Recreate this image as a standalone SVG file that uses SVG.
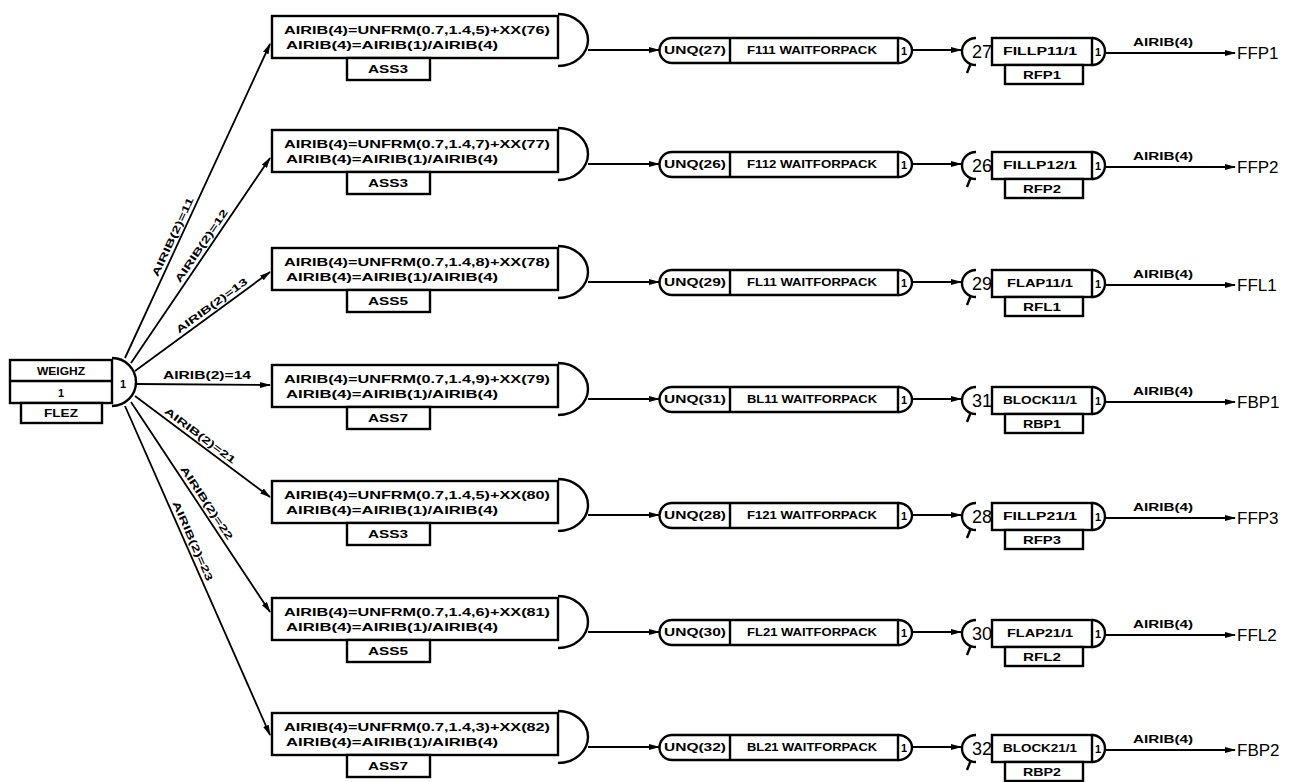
<svg xmlns="http://www.w3.org/2000/svg" width="1292" height="782" viewBox="0 0 1292 782">
<style>
.b{fill:#fff;stroke:#000;stroke-width:2.4}
.n{fill:none;stroke:#000;stroke-width:2.4}
.c{fill:none;stroke:#000;stroke-width:1.8}
.t{font-family:"Liberation Sans",Arial,sans-serif;font-weight:bold;font-size:11px;fill:#000}
.m{font-family:"Liberation Sans",Arial,sans-serif;font-weight:bold;font-size:11px;fill:#000;text-anchor:middle}
.e{font-family:"Liberation Sans",Arial,sans-serif;font-weight:bold;font-size:10px;fill:#000;text-anchor:middle}
.o{font-family:"Liberation Sans",Arial,sans-serif;font-size:17px;fill:#000}
.k{font-family:"Liberation Sans",Arial,sans-serif;font-size:18px;fill:#000;text-anchor:middle}
</style>
<defs>
<marker id="a" markerWidth="11" markerHeight="8" refX="10" refY="4" orient="auto" markerUnits="userSpaceOnUse">
<path d="M0,1 L11,4 L0,7 Z" fill="#000"/>
</marker>
</defs>
<rect width="1292" height="782" fill="#fff"/>

<g id="start">
<rect class="b" x="10" y="360" width="102" height="43"/>
<line class="n" x1="10" y1="381" x2="112" y2="381"/>
<rect class="b" x="21" y="403" width="81" height="20"/>
<path class="n" d="M112,358 A24,24 0 0 1 112,406"/>
<text class="m" x="61" y="375" textLength="48" lengthAdjust="spacingAndGlyphs">WEIGHZ</text>
<text class="m" x="61" y="397">1</text>
<text class="m" x="61" y="417" textLength="34" lengthAdjust="spacingAndGlyphs">FLEZ</text>
<text class="m" x="123" y="388">1</text>
</g>

<g id="connectors">
<line class="c" x1="125" y1="358" x2="270" y2="44" marker-end="url(#a)"/>
<line class="c" x1="131" y1="363" x2="270" y2="158" marker-end="url(#a)"/>
<line class="c" x1="135" y1="371" x2="270" y2="272" marker-end="url(#a)"/>
<line class="c" x1="137" y1="384" x2="270" y2="385" marker-end="url(#a)"/>
<line class="c" x1="135" y1="396" x2="270" y2="497" marker-end="url(#a)"/>
<line class="c" x1="131" y1="402" x2="270" y2="612" marker-end="url(#a)"/>
<line class="c" x1="125" y1="406" x2="270" y2="735" marker-end="url(#a)"/>
<text class="e" transform="translate(179.5,240) rotate(-65.2)" y="-4" textLength="86" lengthAdjust="spacingAndGlyphs">AIRIB(2)=11</text>
<text class="e" transform="translate(207.5,250) rotate(-55.9)" y="-4" textLength="86" lengthAdjust="spacingAndGlyphs">AIRIB(2)=12</text>
<text class="e" transform="translate(216,311.6) rotate(-36.3)" y="-4" textLength="86" lengthAdjust="spacingAndGlyphs">AIRIB(2)=13</text>
<text class="e" x="207" y="379" textLength="88" lengthAdjust="spacingAndGlyphs">AIRIB(2)=14</text>
<text class="e" transform="translate(195.8,441.5) rotate(36.8)" y="-4" textLength="86" lengthAdjust="spacingAndGlyphs">AIRIB(2)=21</text>
<text class="e" transform="translate(200.5,507) rotate(56.5)" y="-4" textLength="86" lengthAdjust="spacingAndGlyphs">AIRIB(2)=22</text>
<text class="e" transform="translate(186,544) rotate(66.2)" y="-4" textLength="86" lengthAdjust="spacingAndGlyphs">AIRIB(2)=23</text>

<line class="c" x1="588" y1="50" x2="659" y2="50" marker-end="url(#a)"/>
<line class="c" x1="588" y1="164" x2="659" y2="164" marker-end="url(#a)"/>
<line class="c" x1="588" y1="282" x2="659" y2="282" marker-end="url(#a)"/>
<line class="c" x1="588" y1="399" x2="659" y2="399" marker-end="url(#a)"/>
<line class="c" x1="588" y1="515" x2="659" y2="515" marker-end="url(#a)"/>
<line class="c" x1="588" y1="632" x2="659" y2="632" marker-end="url(#a)"/>
<line class="c" x1="588" y1="747" x2="659" y2="747" marker-end="url(#a)"/>

<line class="c" x1="912" y1="50" x2="961" y2="50" marker-end="url(#a)"/>
<line class="c" x1="912" y1="164" x2="961" y2="164" marker-end="url(#a)"/>
<line class="c" x1="912" y1="282" x2="961" y2="282" marker-end="url(#a)"/>
<line class="c" x1="912" y1="399" x2="961" y2="399" marker-end="url(#a)"/>
<line class="c" x1="912" y1="515" x2="961" y2="515" marker-end="url(#a)"/>
<line class="c" x1="912" y1="632" x2="961" y2="632" marker-end="url(#a)"/>
<line class="c" x1="912" y1="747" x2="961" y2="747" marker-end="url(#a)"/>

<line class="c" x1="1105" y1="53" x2="1235" y2="53" marker-end="url(#a)"/>
<line class="c" x1="1105" y1="167" x2="1235" y2="167" marker-end="url(#a)"/>
<line class="c" x1="1105" y1="285" x2="1235" y2="285" marker-end="url(#a)"/>
<line class="c" x1="1105" y1="402" x2="1235" y2="402" marker-end="url(#a)"/>
<line class="c" x1="1105" y1="518" x2="1235" y2="518" marker-end="url(#a)"/>
<line class="c" x1="1105" y1="635" x2="1235" y2="635" marker-end="url(#a)"/>
<line class="c" x1="1105" y1="750" x2="1235" y2="750" marker-end="url(#a)"/>
<text class="e" x="1163" y="46" textLength="60" lengthAdjust="spacingAndGlyphs">AIRIB(4)</text>
<text class="e" x="1163" y="160" textLength="60" lengthAdjust="spacingAndGlyphs">AIRIB(4)</text>
<text class="e" x="1163" y="278" textLength="60" lengthAdjust="spacingAndGlyphs">AIRIB(4)</text>
<text class="e" x="1163" y="395" textLength="60" lengthAdjust="spacingAndGlyphs">AIRIB(4)</text>
<text class="e" x="1163" y="511" textLength="60" lengthAdjust="spacingAndGlyphs">AIRIB(4)</text>
<text class="e" x="1163" y="628" textLength="60" lengthAdjust="spacingAndGlyphs">AIRIB(4)</text>
<text class="e" x="1163" y="743" textLength="60" lengthAdjust="spacingAndGlyphs">AIRIB(4)</text>
</g>

<g id="assign1">
<rect class="b" x="272" y="16" width="286" height="42"/>
<path class="n" d="M558,14 A30,26 0 0 1 558,66"/>
<text class="t" x="284" y="34" textLength="266" lengthAdjust="spacingAndGlyphs">AIRIB(4)=UNFRM(0.7,1.4,5)+XX(76)</text>
<text class="t" x="286" y="49" textLength="212" lengthAdjust="spacingAndGlyphs">AIRIB(4)=AIRIB(1)/AIRIB(4)</text>
<rect class="b" x="347" y="58" width="83" height="22"/>
<text class="m" x="388" y="73" textLength="40" lengthAdjust="spacingAndGlyphs">ASS3</text>
</g>
<g id="assign2">
<rect class="b" x="272" y="130" width="286" height="42"/>
<path class="n" d="M558,128 A30,26 0 0 1 558,180"/>
<text class="t" x="284" y="148" textLength="266" lengthAdjust="spacingAndGlyphs">AIRIB(4)=UNFRM(0.7,1.4,7)+XX(77)</text>
<text class="t" x="286" y="163" textLength="212" lengthAdjust="spacingAndGlyphs">AIRIB(4)=AIRIB(1)/AIRIB(4)</text>
<rect class="b" x="347" y="172" width="83" height="22"/>
<text class="m" x="388" y="187" textLength="40" lengthAdjust="spacingAndGlyphs">ASS3</text>
</g>
<g id="assign3">
<rect class="b" x="272" y="248" width="286" height="42"/>
<path class="n" d="M558,246 A30,26 0 0 1 558,298"/>
<text class="t" x="284" y="266" textLength="266" lengthAdjust="spacingAndGlyphs">AIRIB(4)=UNFRM(0.7,1.4,8)+XX(78)</text>
<text class="t" x="286" y="281" textLength="212" lengthAdjust="spacingAndGlyphs">AIRIB(4)=AIRIB(1)/AIRIB(4)</text>
<rect class="b" x="347" y="290" width="83" height="22"/>
<text class="m" x="388" y="305" textLength="40" lengthAdjust="spacingAndGlyphs">ASS5</text>
</g>
<g id="assign4">
<rect class="b" x="272" y="365" width="286" height="42"/>
<path class="n" d="M558,363 A30,26 0 0 1 558,415"/>
<text class="t" x="284" y="383" textLength="266" lengthAdjust="spacingAndGlyphs">AIRIB(4)=UNFRM(0.7,1.4,9)+XX(79)</text>
<text class="t" x="286" y="398" textLength="212" lengthAdjust="spacingAndGlyphs">AIRIB(4)=AIRIB(1)/AIRIB(4)</text>
<rect class="b" x="347" y="407" width="83" height="22"/>
<text class="m" x="388" y="422" textLength="40" lengthAdjust="spacingAndGlyphs">ASS7</text>
</g>
<g id="assign5">
<rect class="b" x="272" y="481" width="286" height="42"/>
<path class="n" d="M558,479 A30,26 0 0 1 558,531"/>
<text class="t" x="284" y="499" textLength="266" lengthAdjust="spacingAndGlyphs">AIRIB(4)=UNFRM(0.7,1.4,5)+XX(80)</text>
<text class="t" x="286" y="514" textLength="212" lengthAdjust="spacingAndGlyphs">AIRIB(4)=AIRIB(1)/AIRIB(4)</text>
<rect class="b" x="347" y="523" width="83" height="22"/>
<text class="m" x="388" y="538" textLength="40" lengthAdjust="spacingAndGlyphs">ASS3</text>
</g>
<g id="assign6">
<rect class="b" x="272" y="598" width="286" height="42"/>
<path class="n" d="M558,596 A30,26 0 0 1 558,648"/>
<text class="t" x="284" y="616" textLength="266" lengthAdjust="spacingAndGlyphs">AIRIB(4)=UNFRM(0.7,1.4,6)+XX(81)</text>
<text class="t" x="286" y="631" textLength="212" lengthAdjust="spacingAndGlyphs">AIRIB(4)=AIRIB(1)/AIRIB(4)</text>
<rect class="b" x="347" y="640" width="83" height="22"/>
<text class="m" x="388" y="655" textLength="40" lengthAdjust="spacingAndGlyphs">ASS5</text>
</g>
<g id="assign7">
<rect class="b" x="272" y="713" width="286" height="42"/>
<path class="n" d="M558,711 A30,26 0 0 1 558,763"/>
<text class="t" x="284" y="731" textLength="266" lengthAdjust="spacingAndGlyphs">AIRIB(4)=UNFRM(0.7,1.4,3)+XX(82)</text>
<text class="t" x="286" y="746" textLength="212" lengthAdjust="spacingAndGlyphs">AIRIB(4)=AIRIB(1)/AIRIB(4)</text>
<rect class="b" x="347" y="755" width="83" height="22"/>
<text class="m" x="388" y="770" textLength="40" lengthAdjust="spacingAndGlyphs">ASS7</text>
</g>

<g id="queue1"><path class="b" d="M672,38 H898 V63 H672 A12.5,12.5 0 0 1 672,38 Z"/><line class="n" x1="730" y1="38" x2="730" y2="63"/><path class="n" d="M898,38 A14,12.5 0 0 1 898,63"/><text class="m" x="695" y="54" textLength="62" lengthAdjust="spacingAndGlyphs">UNQ(27)</text><text class="m" x="812" y="54" textLength="130" lengthAdjust="spacingAndGlyphs">F111 WAITFORPACK</text><text class="m" x="904" y="55">1</text></g>
<g id="queue2"><path class="b" d="M672,152 H898 V177 H672 A12.5,12.5 0 0 1 672,152 Z"/><line class="n" x1="730" y1="152" x2="730" y2="177"/><path class="n" d="M898,152 A14,12.5 0 0 1 898,177"/><text class="m" x="695" y="168" textLength="62" lengthAdjust="spacingAndGlyphs">UNQ(26)</text><text class="m" x="812" y="168" textLength="130" lengthAdjust="spacingAndGlyphs">F112 WAITFORPACK</text><text class="m" x="904" y="169">1</text></g>
<g id="queue3"><path class="b" d="M672,270 H898 V295 H672 A12.5,12.5 0 0 1 672,270 Z"/><line class="n" x1="730" y1="270" x2="730" y2="295"/><path class="n" d="M898,270 A14,12.5 0 0 1 898,295"/><text class="m" x="695" y="286" textLength="62" lengthAdjust="spacingAndGlyphs">UNQ(29)</text><text class="m" x="812" y="286" textLength="130" lengthAdjust="spacingAndGlyphs">FL11 WAITFORPACK</text><text class="m" x="904" y="287">1</text></g>
<g id="queue4"><path class="b" d="M672,387 H898 V412 H672 A12.5,12.5 0 0 1 672,387 Z"/><line class="n" x1="730" y1="387" x2="730" y2="412"/><path class="n" d="M898,387 A14,12.5 0 0 1 898,412"/><text class="m" x="695" y="403" textLength="62" lengthAdjust="spacingAndGlyphs">UNQ(31)</text><text class="m" x="812" y="403" textLength="130" lengthAdjust="spacingAndGlyphs">BL11 WAITFORPACK</text><text class="m" x="904" y="404">1</text></g>
<g id="queue5"><path class="b" d="M672,503 H898 V528 H672 A12.5,12.5 0 0 1 672,503 Z"/><line class="n" x1="730" y1="503" x2="730" y2="528"/><path class="n" d="M898,503 A14,12.5 0 0 1 898,528"/><text class="m" x="695" y="519" textLength="62" lengthAdjust="spacingAndGlyphs">UNQ(28)</text><text class="m" x="812" y="519" textLength="130" lengthAdjust="spacingAndGlyphs">F121 WAITFORPACK</text><text class="m" x="904" y="520">1</text></g>
<g id="queue6"><path class="b" d="M672,620 H898 V645 H672 A12.5,12.5 0 0 1 672,620 Z"/><line class="n" x1="730" y1="620" x2="730" y2="645"/><path class="n" d="M898,620 A14,12.5 0 0 1 898,645"/><text class="m" x="695" y="636" textLength="62" lengthAdjust="spacingAndGlyphs">UNQ(30)</text><text class="m" x="812" y="636" textLength="130" lengthAdjust="spacingAndGlyphs">FL21 WAITFORPACK</text><text class="m" x="904" y="637">1</text></g>
<g id="queue7"><path class="b" d="M672,735 H898 V760 H672 A12.5,12.5 0 0 1 672,735 Z"/><line class="n" x1="730" y1="735" x2="730" y2="760"/><path class="n" d="M898,735 A14,12.5 0 0 1 898,760"/><text class="m" x="695" y="751" textLength="62" lengthAdjust="spacingAndGlyphs">UNQ(32)</text><text class="m" x="812" y="751" textLength="130" lengthAdjust="spacingAndGlyphs">BL21 WAITFORPACK</text><text class="m" x="904" y="752">1</text></g>

<g id="free1"><path class="n" d="M976,38 A14,13.5 0 0 0 976,65 M967,73 L971,63"/><text class="k" x="982" y="58">27</text><rect class="b" x="992" y="38" width="100" height="27"/><path class="n" d="M1092,38 A13,13.5 0 0 1 1092,65"/><text class="m" x="1040" y="55" textLength="74" lengthAdjust="spacingAndGlyphs">FILLP11/1</text><text class="m" x="1098" y="56">1</text><rect class="b" x="1005" y="65" width="78" height="19"/><text class="m" x="1042" y="79" textLength="38" lengthAdjust="spacingAndGlyphs">RFP1</text></g>
<g id="free2"><path class="n" d="M976,152 A14,13.5 0 0 0 976,179 M967,187 L971,177"/><text class="k" x="982" y="172">26</text><rect class="b" x="992" y="152" width="100" height="27"/><path class="n" d="M1092,152 A13,13.5 0 0 1 1092,179"/><text class="m" x="1040" y="169" textLength="74" lengthAdjust="spacingAndGlyphs">FILLP12/1</text><text class="m" x="1098" y="170">1</text><rect class="b" x="1005" y="179" width="78" height="19"/><text class="m" x="1042" y="193" textLength="38" lengthAdjust="spacingAndGlyphs">RFP2</text></g>
<g id="free3"><path class="n" d="M976,270 A14,13.5 0 0 0 976,297 M967,305 L971,295"/><text class="k" x="982" y="290">29</text><rect class="b" x="992" y="270" width="100" height="27"/><path class="n" d="M1092,270 A13,13.5 0 0 1 1092,297"/><text class="m" x="1040" y="287" textLength="66" lengthAdjust="spacingAndGlyphs">FLAP11/1</text><text class="m" x="1098" y="288">1</text><rect class="b" x="1005" y="297" width="78" height="19"/><text class="m" x="1042" y="311" textLength="38" lengthAdjust="spacingAndGlyphs">RFL1</text></g>
<g id="free4"><path class="n" d="M976,387 A14,13.5 0 0 0 976,414 M967,422 L971,412"/><text class="k" x="982" y="407">31</text><rect class="b" x="992" y="387" width="100" height="27"/><path class="n" d="M1092,387 A13,13.5 0 0 1 1092,414"/><text class="m" x="1040" y="404" textLength="74" lengthAdjust="spacingAndGlyphs">BLOCK11/1</text><text class="m" x="1098" y="405">1</text><rect class="b" x="1005" y="414" width="78" height="19"/><text class="m" x="1042" y="428" textLength="38" lengthAdjust="spacingAndGlyphs">RBP1</text></g>
<g id="free5"><path class="n" d="M976,503 A14,13.5 0 0 0 976,530 M967,538 L971,528"/><text class="k" x="982" y="523">28</text><rect class="b" x="992" y="503" width="100" height="27"/><path class="n" d="M1092,503 A13,13.5 0 0 1 1092,530"/><text class="m" x="1040" y="520" textLength="74" lengthAdjust="spacingAndGlyphs">FILLP21/1</text><text class="m" x="1098" y="521">1</text><rect class="b" x="1005" y="530" width="78" height="19"/><text class="m" x="1042" y="544" textLength="38" lengthAdjust="spacingAndGlyphs">RFP3</text></g>
<g id="free6"><path class="n" d="M976,620 A14,13.5 0 0 0 976,647 M967,655 L971,645"/><text class="k" x="982" y="640">30</text><rect class="b" x="992" y="620" width="100" height="27"/><path class="n" d="M1092,620 A13,13.5 0 0 1 1092,647"/><text class="m" x="1040" y="637" textLength="66" lengthAdjust="spacingAndGlyphs">FLAP21/1</text><text class="m" x="1098" y="638">1</text><rect class="b" x="1005" y="647" width="78" height="19"/><text class="m" x="1042" y="661" textLength="38" lengthAdjust="spacingAndGlyphs">RFL2</text></g>
<g id="free7"><path class="n" d="M976,735 A14,13.5 0 0 0 976,762 M967,770 L971,760"/><text class="k" x="982" y="755">32</text><rect class="b" x="992" y="735" width="100" height="27"/><path class="n" d="M1092,735 A13,13.5 0 0 1 1092,762"/><text class="m" x="1040" y="752" textLength="74" lengthAdjust="spacingAndGlyphs">BLOCK21/1</text><text class="m" x="1098" y="753">1</text><rect class="b" x="1005" y="762" width="78" height="19"/><text class="m" x="1042" y="776" textLength="38" lengthAdjust="spacingAndGlyphs">RBP2</text></g>

<g id="exits">
<text class="o" x="1237" y="59">FFP1</text>
<text class="o" x="1237" y="173">FFP2</text>
<text class="o" x="1237" y="291">FFL1</text>
<text class="o" x="1237" y="408">FBP1</text>
<text class="o" x="1237" y="524">FFP3</text>
<text class="o" x="1237" y="641">FFL2</text>
<text class="o" x="1237" y="756">FBP2</text>
</g>
</svg>
